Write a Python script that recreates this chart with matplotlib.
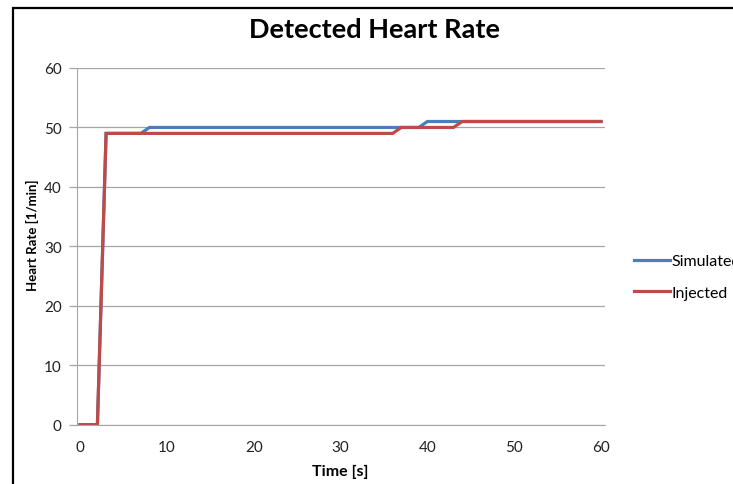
import matplotlib.pyplot as plt
from matplotlib.patches import Rectangle

# seconds 0..60
time_s = list(range(0, 61))
simulated = [0, 0, 0] + [49] * 5 + [50] * 32 + [51] * 21
injected = [0, 0, 0] + [49] * 34 + [50] * 7 + [51] * 17

y_ticks = [0, 10, 20, 30, 40, 50, 60]
x_ticks = [0, 10, 20, 30, 40, 50, 60]

plt.rcParams['font.family'] = ['Lato', 'DejaVu Sans']

fig = plt.figure(figsize=(7.33, 4.85), dpi=100)
ax = fig.add_axes([77 / 733, 1 - 425.7 / 485, (605 - 77) / 733, (425.7 - 69) / 485])

ax.plot(time_s, simulated, color='#4a7ebb', lw=2.3, label='Simulated', solid_joinstyle='miter')
ax.plot(time_s, injected, color='#be4b48', lw=2.3, label='Injected', solid_joinstyle='miter')

ax.set_xlim(-0.35, 60.45)
ax.set_ylim(0, 60)
ax.set_xticks(x_ticks)
ax.set_yticks(y_ticks)
ax.yaxis.grid(True, color='#a6a6a6', lw=0.9)
ax.set_axisbelow(True)

for side in ['top', 'right']:
    ax.spines[side].set_visible(False)
ax.spines['left'].set_color('#a6a6a6')
ax.spines['bottom'].set_color('#a6a6a6')
ax.tick_params(axis='y', length=6, width=0.9, color='#a6a6a6', pad=5, labelsize=11, labelcolor='#222222')
ax.tick_params(axis='x', length=0, pad=11, labelsize=11, labelcolor='#222222')

fig.text(374 / 733, 1 - 30 / 485, 'Detected Heart Rate', ha='center', va='center', fontsize=19.5, fontweight='bold')
fig.text(32 / 733, 1 - 235 / 485, 'Heart Rate [1/min]', rotation=90, ha='center', va='center',
         fontsize=9.5, fontweight='bold')
fig.text(340 / 733, 1 - 472 / 485, 'Time [s]', ha='center', va='center', fontsize=11.5, fontweight='bold')

fig.legend(loc='center left', bbox_to_anchor=(628 / 733, 1 - 278 / 485), frameon=False,
           fontsize=11.5, handlelength=2.2, handletextpad=0.12, labelspacing=1.1, borderaxespad=0)

fig.patches.append(Rectangle((12.5 / 733, -0.5), 2.0, 1.5 - 9 / 485, transform=fig.transFigure,
                             fill=False, edgecolor='black', lw=1.6))

fig.savefig('out.png', dpi=100)
